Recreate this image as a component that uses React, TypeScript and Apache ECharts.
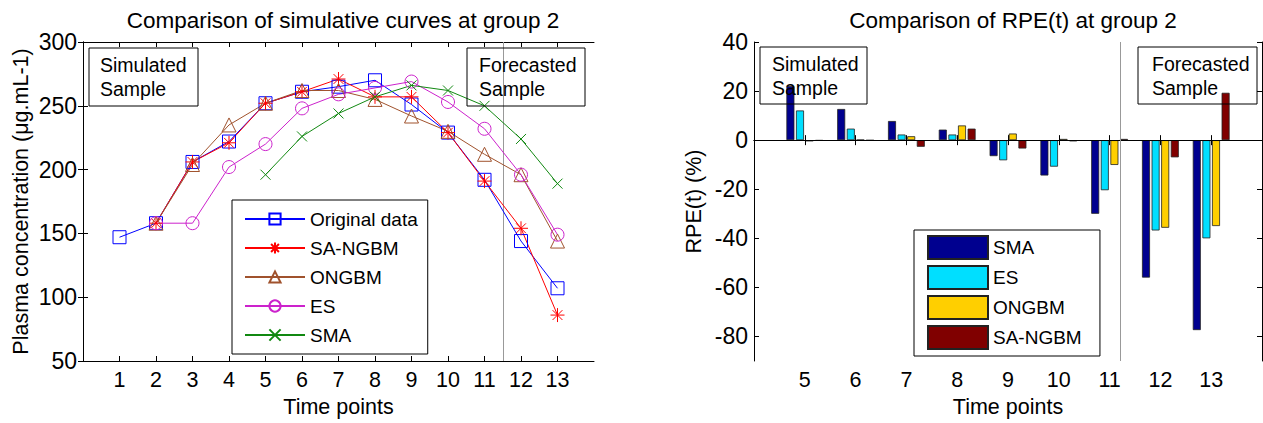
import React, { useEffect, useRef } from "react";
import * as echarts from "echarts";

// ---------- Data ----------
const timePoints = [1, 2, 3, 4, 5, 6, 7, 8, 9, 10, 11, 12, 13];
const originalData = [147, 158, 206, 222, 252, 261, 265, 270, 251, 229, 192, 144, 107];
const saNgbmCurve = [null, 158, 206, 221, 252, 261, 271, 257, 257, 229, 191, 154, 86];
const ongbmCurve = [null, 158, 204, 235, 252, 262, 262, 255, 242, 230, 212, 196, 144];
const esCurve = [null, 158, 158, 202, 220, 248, 259, 264, 269, 253, 232, 196, 149];
const smaCurve = [null, null, null, null, 196, 226, 244, 257, 266, 262, 250, 224, 189];

const rpePoints = [5, 6, 7, 8, 9, 10, 11, 12, 13];
const rpeSMA = [22, 12.7, 7.8, 4.3, -6.5, -14.4, -30, -56, -77.4];
const rpeES = [12.1, 4.7, 2.3, 2.3, -8.2, -10.8, -20.4, -36.8, -40];
const rpeONGBM = [-0.5, 0.15, 1.6, 6, 2.7, 0.5, -10.1, -35.7, -35];
const rpeSANGBM = [-0.2, -0.1, -2.7, 4.7, -3.4, -0.5, 0.5, -7, 19.3];

const leftYTicks = [50, 100, 150, 200, 250, 300];
const rightYTicks = [-80, -60, -40, -20, 0, 20, 40];
const splitPoint = 11.5;

const FONT = "'Liberation Sans', Arial, Helvetica, sans-serif";
const FS_TITLE = 22.5;
const FS_NAME = 21.5;
const FS_XTICK = 21.5;
const FS_YTICK = 23;
const FS_LEGEND = 19;
const FS_BOX = 19.5;

const pair = (xs: number[], ys: (number | null)[]) => xs.map((x, i) => [x, ys[i]]);

const ASTERISK = "path://M0,5L10,5M5,0L5,10M1.5,1.5L8.5,8.5M1.5,8.5L8.5,1.5";
const CROSS = "path://M0,0L10,10M0,10L10,0";

export default function App() {
  const ref = useRef<HTMLDivElement>(null);

  useEffect(() => {
    if (!ref.current) return;
    const chart = echarts.init(ref.current, undefined, { renderer: "svg" });

    const axisLine = { show: true, lineStyle: { color: "#000", width: 1 } };
    const tickStyle = (vals: number[]) => ({
      show: true,
      inside: true,
      length: 5,
      lineStyle: { color: "#000", width: 1 },
      customValues: vals,
    });
    const labelStyle = (vals: number[], margin: number, fs: number) => ({
      show: true,
      color: "#000",
      fontSize: fs,
      fontFamily: FONT,
      margin,
      customValues: vals,
    });
    const hiddenLabel = { show: false };
    const nameStyle = { fontSize: FS_NAME, color: "#000", fontFamily: FONT };

    const lineSeries = (
      name: string,
      data: (number | null)[],
      color: string,
      symbol: string,
      size: number
    ) => ({
      type: "line",
      name,
      xAxisIndex: 0,
      yAxisIndex: 0,
      data: pair(timePoints, data),
      symbol,
      symbolSize: size,
      showSymbol: true,
      connectNulls: false,
      lineStyle: { color, width: 1 },
      itemStyle: { color: "rgba(255,255,255,0)", borderColor: color, borderWidth: 1 },
      emphasis: { disabled: true },
      z: 3,
    });

    const barSeries = (name: string, data: number[], color: string, extra: any = {}) => ({
      type: "bar",
      name,
      xAxisIndex: 2,
      yAxisIndex: 2,
      data: pair(rpePoints, data),
      barWidth: 8,
      barGap: "20%",
      itemStyle: { color, borderColor: "#222", borderWidth: 0.8 },
      emphasis: { disabled: true },
      ...extra,
    });

    const boxText = (x: number, y: number, w: number, h: number, tx: number, text: string) => [
      {
        type: "rect",
        shape: { x, y, width: w, height: h },
        style: { fill: "rgba(255,255,255,0)", stroke: "#000", lineWidth: 1 },
        z: 50,
        silent: true,
      },
      {
        type: "text",
        x: tx,
        y: y + h / 2,
        style: {
          text,
          fill: "#000",
          fontSize: FS_BOX,
          fontFamily: FONT,
          lineHeight: 24,
          verticalAlign: "middle",
          align: "left",
        },
        z: 60,
        silent: true,
      },
    ];

    const option: any = {
      animation: false,
      backgroundColor: "#fff",
      textStyle: { fontFamily: FONT },
      title: [
        {
          text: "Comparison of simulative curves at group 2",
          left: 338,
          top: 4,
          textAlign: "center",
          textStyle: { fontSize: FS_TITLE, fontWeight: "normal", color: "#000", fontFamily: FONT },
        },
        {
          text: "Comparison of RPE(t) at group 2",
          left: 1008,
          top: 4,
          textAlign: "center",
          textStyle: { fontSize: FS_TITLE, fontWeight: "normal", color: "#000", fontFamily: FONT },
        },
      ],
      grid: [
        { left: 83, top: 42, right: 669, bottom: 60 },
        { left: 754, top: 42, right: 1, bottom: 59 },
      ],
      legend: [
        {
          orient: "vertical",
          left: 232,
          top: 200,
          data: ["Original data", "SA-NGBM", "ONGBM", "ES", "SMA"],
          itemWidth: 60,
          itemHeight: 14,
          itemGap: 9,
          padding: [9, 10, 9, 12],
          backgroundColor: "#fff",
          borderColor: "#000",
          borderWidth: 1,
          borderRadius: 0,
          textStyle: { fontSize: FS_LEGEND, color: "#000", fontFamily: FONT, lineHeight: 20 },
          selectedMode: false,
          z: 20,
        },
        {
          orient: "vertical",
          left: 914,
          top: 230,
          data: ["SMA ", "ES ", "ONGBM ", "SA-NGBM "],
          itemWidth: 60,
          itemHeight: 23,
          itemGap: 5,
          icon: "rect",
          padding: [5, 13, 6, 13],
          backgroundColor: "#fff",
          borderColor: "#000",
          borderWidth: 1,
          borderRadius: 0,
          textStyle: { fontSize: FS_LEGEND, color: "#000", fontFamily: FONT, lineHeight: 20 },
          selectedMode: false,
          z: 20,
        },
      ],
      xAxis: [
        {
          gridIndex: 0,
          type: "value",
          position: "bottom",
          min: 0,
          max: 14,
          interval: 1,
          axisLine,
          axisTick: tickStyle(timePoints),
          axisLabel: labelStyle(timePoints, 8, FS_XTICK),
          splitLine: { show: false },
          name: "Time points",
          nameLocation: "middle",
          nameGap: 35,
          nameTextStyle: nameStyle,
        },
        {
          gridIndex: 0,
          type: "value",
          position: "top",
          min: 0,
          max: 14,
          interval: 1,
          axisLine,
          axisTick: tickStyle(timePoints),
          axisLabel: hiddenLabel,
          splitLine: { show: false },
        },
        {
          gridIndex: 1,
          type: "value",
          position: "bottom",
          min: 4,
          max: 14,
          interval: 1,
          axisLine,
          axisTick: tickStyle(rpePoints),
          axisLabel: labelStyle(rpePoints, 8, FS_XTICK),
          splitLine: { show: false },
          name: "Time points",
          nameLocation: "middle",
          nameGap: 35,
          nameTextStyle: nameStyle,
        },
        {
          gridIndex: 1,
          type: "value",
          position: "top",
          min: 4,
          max: 14,
          interval: 1,
          axisLine,
          axisTick: tickStyle(rpePoints),
          axisLabel: hiddenLabel,
          splitLine: { show: false },
        },
      ],
      yAxis: [
        {
          gridIndex: 0,
          type: "value",
          position: "left",
          min: 50,
          max: 300,
          interval: 50,
          axisLine,
          axisTick: tickStyle(leftYTicks),
          axisLabel: labelStyle(leftYTicks, 6, FS_YTICK),
          splitLine: { show: false },
          name: "Plasma concentration (μg.mL-1)",
          nameLocation: "middle",
          nameGap: 51,
          nameTextStyle: nameStyle,
        },
        {
          gridIndex: 0,
          type: "value",
          position: "right",
          min: 50,
          max: 300,
          interval: 50,
          axisLine,
          axisTick: tickStyle(leftYTicks),
          axisLabel: hiddenLabel,
          splitLine: { show: false },
        },
        {
          gridIndex: 1,
          type: "value",
          position: "left",
          min: -90,
          max: 40,
          axisLine,
          axisTick: tickStyle(rightYTicks),
          axisLabel: labelStyle(rightYTicks, 6, FS_YTICK),
          splitLine: { show: false },
          name: "RPE(t) (%)",
          nameLocation: "middle",
          nameGap: 49,
          nameTextStyle: nameStyle,
        },
        {
          gridIndex: 1,
          type: "value",
          position: "right",
          min: -90,
          max: 40,
          axisLine,
          axisTick: tickStyle(rightYTicks),
          axisLabel: hiddenLabel,
          splitLine: { show: false },
        },
      ],
      series: [
        {
          ...lineSeries("Original data", originalData, "#0000FF", "rect", 13),
          markLine: {
            silent: true,
            symbol: "none",
            label: { show: false },
            lineStyle: { color: "#999", width: 1, type: "solid" },
            data: [{ xAxis: splitPoint }],
            z: 1,
          },
        },
        lineSeries("SA-NGBM", saNgbmCurve, "#FF0000", ASTERISK, 14),
        lineSeries("ONGBM", ongbmCurve, "#A0522D", "triangle", 14),
        lineSeries("ES", esCurve, "#CC22CC", "circle", 13),
        lineSeries("SMA", smaCurve, "#118811", CROSS, 10),
        barSeries("SMA ", rpeSMA, "#00008F", {
          markLine: {
            silent: true,
            symbol: "none",
            label: { show: false },
            data: [
              { yAxis: 0, lineStyle: { color: "#000", width: 1, type: "solid" } },
              { xAxis: splitPoint, lineStyle: { color: "#999", width: 1, type: "solid" } },
            ],
          },
        }),
        barSeries("ES ", rpeES, "#00DFFF"),
        barSeries("ONGBM ", rpeONGBM, "#FFCF00"),
        barSeries("SA-NGBM ", rpeSANGBM, "#800000"),
      ],
      graphic: [
        ...boxText(89, 48, 109, 58, 100, "Simulated\nSample"),
        ...boxText(467, 48, 118, 58, 479, "Forecasted\nSample"),
        ...boxText(760, 47, 107, 57, 772, "Simulated\nSample"),
        ...boxText(1138, 47, 119, 57, 1152, "Forecasted\nSample"),
      ],
    };

    chart.setOption(option);
    return () => chart.dispose();
  }, []);

  return (
    <div
      ref={ref}
      style={{ position: "fixed", left: 0, top: 0, width: 1263, height: 423, background: "#fff" }}
    />
  );
}
